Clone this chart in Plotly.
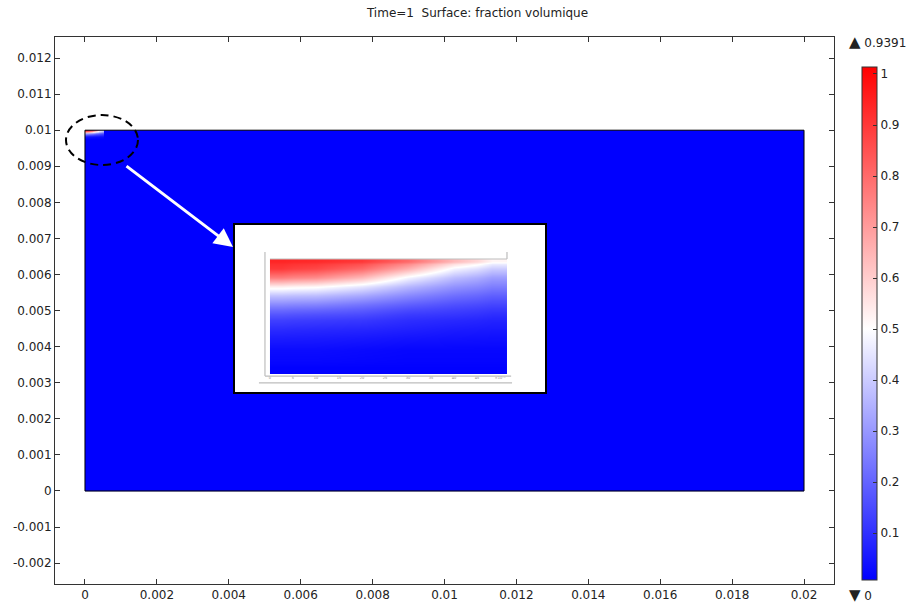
import plotly.graph_objects as go

# ---- data -------------------------------------------------------------
# computational domain (m)
DOMAIN_X = [0.0, 0.02]
DOMAIN_Y = [0.0, 0.01]
BULK_FRACTION = [[0.0]]

# volume fraction in the top-left corner; lengths in units of 1e-5 m
CORNER_X_EDGES = [0, 5, 15, 25, 35, 45, 51.5]
CORNER_DEPTH_EDGES = [0, 1, 3, 5, 7, 9, 11, 13.5, 17.5, 22.5, 25.5]  # below the top wall
# rows: depth cells from the wall downwards, columns: x cells
CORNER_FRACTION = [
    [0.94, 0.93, 0.90, 0.80, 0.64, 0.52],
    [0.90, 0.87, 0.80, 0.66, 0.48, 0.40],
    [0.76, 0.73, 0.64, 0.48, 0.37, 0.31],
    [0.53, 0.51, 0.45, 0.36, 0.29, 0.25],
    [0.38, 0.37, 0.33, 0.27, 0.22, 0.19],
    [0.27, 0.26, 0.23, 0.19, 0.16, 0.14],
    [0.17, 0.16, 0.15, 0.12, 0.11, 0.095],
    [0.09, 0.085, 0.08, 0.07, 0.06, 0.055],
    [0.03, 0.03, 0.025, 0.02, 0.02, 0.02],
    [0.01, 0.01, 0.01, 0.01, 0.01, 0.01],
]
FRACTION_MAX = 0.9391
FRACTION_MIN = 0

X_TICKS = [0, 0.002, 0.004, 0.006, 0.008, 0.01, 0.012, 0.014, 0.016, 0.018, 0.02]
X_TICK_TEXT = ["0", "0.002", "0.004", "0.006", "0.008", "0.01", "0.012",
               "0.014", "0.016", "0.018", "0.02"]
Y_TICKS = [-0.002, -0.001, 0, 0.001, 0.002, 0.003, 0.004, 0.005, 0.006,
           0.007, 0.008, 0.009, 0.01, 0.011, 0.012]
Y_TICK_TEXT = ["-0.002", "-0.001", "0", "0.001", "0.002", "0.003", "0.004",
               "0.005", "0.006", "0.007", "0.008", "0.009", "0.01", "0.011", "0.012"]
CB_TICKS = [0.1, 0.2, 0.3, 0.4, 0.5, 0.6, 0.7, 0.8, 0.9, 1]
CB_TICK_TEXT = ["0.1", "0.2", "0.3", "0.4", "0.5", "0.6", "0.7", "0.8", "0.9", "1"]
INSET_TICKS = [0, 5, 10, 15, 20, 25, 30, 35, 40, 45, 50]
INSET_TICK_TEXT = ["0", "5", "10", "15", "20", "25", "30", "35", "40", "45", "×10⁻⁵"]

# ---- layout geometry ----------------------------------------------------
W, H = 908, 603
ML, MR, MT, MB = 55, 74, 37, 19
PW, PH = W - ML - MR, H - MT - MB

CMIN, CMAX = 0.008, 1.0137
white_at = (0.5 - CMIN) / (CMAX - CMIN)
COLORSCALE = [[0, "rgb(0,0,255)"], [white_at, "rgb(255,255,255)"], [1, "rgb(255,0,0)"]]

UNIT = 1e-5
TOP = 1000  # y = 0.01 m in 1e-5 m units
y_edges_u = [TOP - d for d in reversed(CORNER_DEPTH_EDGES)]
z_rows = list(reversed(CORNER_FRACTION))

fig = go.Figure()

# bulk of the domain
fig.add_trace(go.Heatmap(
    x=DOMAIN_X, y=DOMAIN_Y, z=BULK_FRACTION, coloraxis="coloraxis",
    hoverinfo="skip"))

# corner field in the main view
fig.add_trace(go.Heatmap(
    x=[v * UNIT for v in CORNER_X_EDGES], y=[v * UNIT for v in y_edges_u],
    z=z_rows, zsmooth="best", coloraxis="coloraxis", hoverinfo="skip"))

# zoomed view of the corner
fig.add_trace(go.Heatmap(
    x=CORNER_X_EDGES, y=y_edges_u, z=z_rows, zsmooth="best",
    coloraxis="coloraxis", xaxis="x2", yaxis="y2", hoverinfo="skip"))

# zoomed view axes: tick labels
x_end = CORNER_X_EDGES[-1]
y_bot = y_edges_u[0]
fig.add_trace(go.Scatter(
    x=INSET_TICKS, y=[y_bot - 0.95] * len(INSET_TICKS), text=INSET_TICK_TEXT,
    mode="text", textfont=dict(size=3.5, color="#888", family="DejaVu Sans"),
    xaxis="x2", yaxis="y2", hoverinfo="skip", showlegend=False))

# inset box position (paper)
bx0, bx1 = (235 - ML) / PW, (545 - ML) / PW
by0, by1 = (H - MB - 392) / PH, (H - MB - 225) / PH

shapes = []
# white backdrop of the zoomed view
shapes.append(dict(type="rect", xref="x2", yref="y2", x0=-500, x1=500,
                   y0=500, y1=1500, fillcolor="white", line=dict(width=0),
                   layer="below"))
gray = "#bdbdbd"
shapes += [
    dict(type="line", xref="x2", yref="y2", x0=-1.09, x1=-1.09, y0=y_bot - 0.4,
         y1=TOP + 1.55, line=dict(color=gray, width=1.2)),
    dict(type="line", xref="x2", yref="y2", x0=x_end, x1=x_end, y0=TOP,
         y1=TOP + 1.55, line=dict(color=gray, width=1.2)),
    dict(type="line", xref="x2", yref="y2", x0=0, x1=x_end, y0=TOP, y1=TOP,
         line=dict(color=gray, width=1)),
    dict(type="line", xref="x2", yref="y2", x0=-1.09, x1=52.4, y0=y_bot - 0.4,
         y1=y_bot - 0.4, line=dict(color=gray, width=1.2)),
    dict(type="line", xref="x2", yref="y2", x0=-2.4, x1=52.6, y0=y_bot - 1.9,
         y1=y_bot - 1.9, line=dict(color=gray, width=1.2)),
]
# domain outline
shapes.append(dict(type="rect", xref="x", yref="y", x0=DOMAIN_X[0], x1=DOMAIN_X[1],
                   y0=DOMAIN_Y[0], y1=DOMAIN_Y[1], line=dict(color="black", width=1),
                   fillcolor="rgba(0,0,0,0)", layer="above"))
# dashed ellipse around the corner
shapes.append(dict(type="circle", xref="x", yref="y", x0=-0.000528, x1=0.001474,
                   y0=0.009035, y1=0.010420,
                   line=dict(color="black", width=2, dash="8px,5px"),
                   layer="above"))
# colourbar ticks on the left edge of the bar
cb_top_px, cb_bot_px, cb_left_px = 67, 580, 862
cb_len = cb_bot_px - cb_top_px
for v in CB_TICKS:
    ypx = cb_bot_px - (v - CMIN) / (CMAX - CMIN) * cb_len
    yp = (H - MB - ypx) / PH
    shapes.append(dict(type="line", xref="paper", yref="paper",
                       x0=(cb_left_px - ML) / PW, x1=(cb_left_px + 4 - ML) / PW,
                       y0=yp, y1=yp, line=dict(color="#333", width=1)))

tri = '<span style="font-size:15px">%s</span> %s'
annotations = [
    dict(x=0.004117, y=0.006762, ax=0.001113, ay=0.009035, xref="x", yref="y",
         axref="x", ayref="y", showarrow=True, arrowhead=2, arrowsize=1.25,
         arrowwidth=3, arrowcolor="white", text="", standoff=0),
    dict(x=(847 - ML) / PW, y=(H - MB - 42) / PH, xref="paper", yref="paper",
         xanchor="left", yanchor="middle", showarrow=False,
         text=tri % ("▲", "%g" % FRACTION_MAX), font=dict(size=12, color="#222")),
    dict(x=(847 - ML) / PW, y=(H - MB - 595) / PH, xref="paper", yref="paper",
         xanchor="left", yanchor="middle", showarrow=False,
         text=tri % ("▼", "%g" % FRACTION_MIN), font=dict(size=12, color="#222")),
]

axis_common = dict(showgrid=False, zeroline=False, showline=True, mirror="allticks",
                   linecolor="#333", linewidth=1, ticks="inside", ticklen=5,
                   tickcolor="#333", tickfont=dict(size=12, color="#222"))

fig.update_layout(
    width=W, height=H,
    margin=dict(l=ML, r=MR, t=MT, b=MB, autoexpand=False),
    paper_bgcolor="white", plot_bgcolor="white",
    font=dict(family="DejaVu Sans", size=12, color="#222"),
    title=dict(text="Time=1\u00a0\u00a0Surface: fraction volumique",
               x=(477.5 - ML) / PW, xref="paper", xanchor="center",
               y=1 - 13 / H, yanchor="middle", font=dict(size=12, color="#222")),
    xaxis=dict(range=[-0.000834, 0.020834], tickvals=X_TICKS, ticktext=X_TICK_TEXT,
               domain=[0, 1], **axis_common),
    yaxis=dict(range=[-0.002578, 0.012583], tickvals=Y_TICKS, ticktext=Y_TICK_TEXT,
               domain=[0, 1], **axis_common),
    xaxis2=dict(domain=[bx0, bx1], anchor="y2", range=[-7.6, 59.76],
                showgrid=False, zeroline=False, showticklabels=False, ticks="",
                showline=True, mirror=True, linecolor="black", linewidth=2),
    yaxis2=dict(domain=[by0, by1], anchor="x2", range=[970.58, 1007.52],
                showgrid=False, zeroline=False, showticklabels=False, ticks="",
                showline=True, mirror=True, linecolor="black", linewidth=2),
    coloraxis=dict(
        colorscale=COLORSCALE, cmin=CMIN, cmax=CMAX,
        colorbar=dict(
            x=(cb_left_px - ML) / PW, xanchor="left", xpad=0, ypad=0,
            y=(H - MB - (cb_top_px + cb_bot_px) / 2) / PH, yanchor="middle",
            len=cb_len, lenmode="pixels", thickness=15, thicknessmode="pixels",
            outlinewidth=1, outlinecolor="#333",
            tickvals=CB_TICKS, ticktext=CB_TICK_TEXT, ticks="inside", ticklen=4,
            tickcolor="#333", tickfont=dict(size=12, color="#222"),
        ),
    ),
    shapes=shapes,
    annotations=annotations,
    showlegend=False,
)

fig.write_html("out.html")
